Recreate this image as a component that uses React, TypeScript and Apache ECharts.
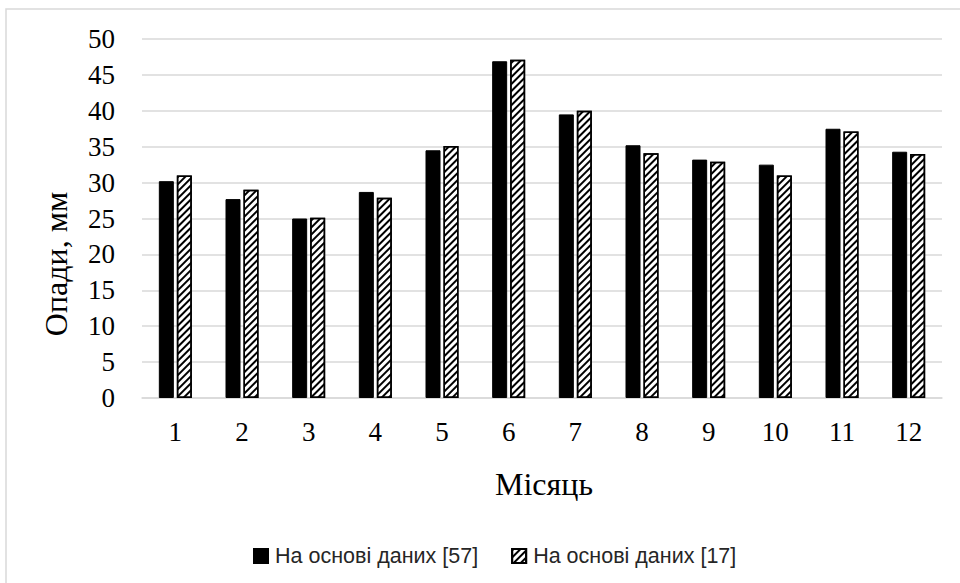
import React, { useEffect, useRef } from "react";
import * as echarts from "echarts";

const months = ["1", "2", "3", "4", "5", "6", "7", "8", "9", "10", "11", "12"];
const seriesNames = ["На основі даних [57]", "На основі даних [17]"];
const data57 = [30.2, 27.7, 25.0, 28.7, 34.5, 46.9, 39.5, 35.2, 33.2, 32.5, 37.5, 34.3];
const data17 = [31.0, 29.0, 25.1, 27.9, 35.1, 47.1, 40.0, 34.1, 32.9, 31.0, 37.1, 34.0];
const yTitle = "Опади, мм";
const xTitle = "Місяць";

export default function App() {
  const ref = useRef<HTMLDivElement>(null);
  useEffect(() => {
    if (!ref.current) return;
    const chart = echarts.init(ref.current, null, { renderer: "svg" });
    const serif = "'Liberation Serif', 'Times New Roman', serif";
    chart.setOption({
      animation: false,
      backgroundColor: "#fff",
      grid: { left: 142, right: 18, top: 39, bottom: 185, containLabel: false },
      legend: {
        left: 248,
        top: 540,
        itemWidth: 14,
        itemHeight: 14,
        itemGap: 33,
        icon: "rect",
        textStyle: { fontFamily: "'Liberation Sans', Arial, sans-serif", fontSize: 21.5, color: "#262626", padding: [0, 0, 0, 2] },
        data: seriesNames,
      },
      xAxis: {
        type: "category",
        data: months,
        axisLine: { show: true, lineStyle: { color: "#d9d9d9", width: 1.5 } },
        axisTick: { show: false },
        axisLabel: { fontFamily: serif, fontSize: 27, color: "#000", margin: 20 },
      },
      yAxis: {
        type: "value",
        min: 0,
        max: 50,
        interval: 5,
        axisLine: { show: false },
        axisTick: { show: false },
        splitLine: { lineStyle: { color: "#d9d9d9", width: 1.5 } },
        axisLabel: { fontFamily: serif, fontSize: 27, color: "#000", margin: 27 },
      },
      series: [
        {
          name: seriesNames[0],
          type: "bar",
          data: data57,
          barWidth: 15,
          barGap: "20%",
          itemStyle: { color: "#000", borderColor: "#000", borderWidth: 1 },
        },
        {
          name: seriesNames[1],
          type: "bar",
          data: data17,
          barWidth: 15,
          barGap: "20%",
          itemStyle: {
            color: "#fff",
            borderColor: "#000",
            borderWidth: 1.5,
            decal: {
              symbol: "rect",
              symbolSize: 1,
              color: "#000",
              backgroundColor: "#fff",
              dashArrayX: [1, 0],
              dashArrayY: [1.5, 2.2],
              rotation: -Math.PI / 4,
            },
          },
        },
      ],
      graphic: [
        {
          type: "rect",
          shape: { x: 6, y: 9, width: 1000, height: 700 },
          style: { fill: "none", stroke: "#d9d9d9", lineWidth: 1.5 },
          silent: true,
          z: -10,
        },
        {
          type: "text",
          x: 56,
          y: 264,
          rotation: Math.PI / 2,
          style: {
            text: yTitle,
            fontFamily: serif,
            fontSize: 32,
            fill: "#000",
            align: "center",
            verticalAlign: "middle",
          },
        },
        {
          type: "text",
          x: 544,
          y: 484,
          style: {
            text: xTitle,
            fontFamily: serif,
            fontSize: 32,
            fill: "#000",
            align: "center",
            verticalAlign: "middle",
          },
        },
      ],
    });
    return () => chart.dispose();
  }, []);
  return (
    <div
      ref={ref}
      style={{ position: "fixed", left: 0, top: 0, width: 960, height: 583 }}
    />
  );
}
